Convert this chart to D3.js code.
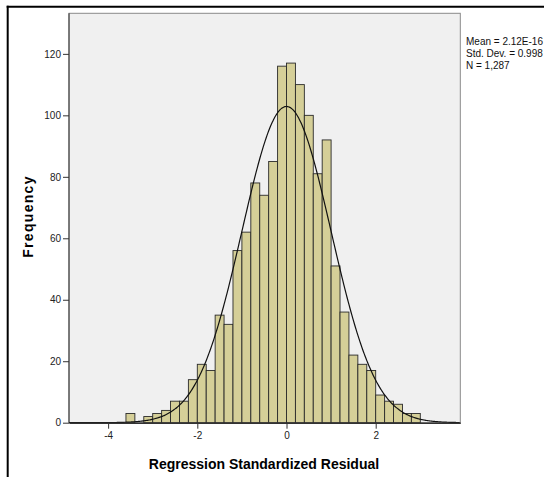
<!DOCTYPE html>
<html>
<head>
<meta charset="utf-8">
<script src="https://cdn.jsdelivr.net/npm/d3@7"></script>
<style>
  body { margin: 0; background: #fff; }
  svg { display: block; font-family: "Liberation Sans", Arial, sans-serif; }
</style>
</head>
<body>
<div id="chart"></div>
<script>
// bin left edges (width 0.2) and counts
const binStarts = [-3.6, -3.4, -3.2, -3.0, -2.8, -2.6, -2.4, -2.2, -2.0, -1.8, -1.6, -1.4, -1.2, -1.0,
  -0.8, -0.6, -0.4, -0.2, 0.0, 0.2, 0.4, 0.6, 0.8, 1.0, 1.2, 1.4, 1.6, 1.8, 2.0, 2.2, 2.4, 2.6, 2.8];
const counts = [3, 0, 2, 3, 4, 7, 7, 14, 19, 17, 35, 32, 56, 62,
  78, 74, 85, 116, 117, 110, 100, 81, 92, 51, 36, 22, 19, 17, 9, 7, 6, 3, 3];
const binWidth = 0.2;
const xTicks = [-4, -2, 0, 2];
const yTicks = [0, 20, 40, 60, 80, 100, 120];
const stats = { mean: 2.12e-16, sd: 0.998, n: 1287 };
const statLines = ['Mean = 2.12E-16', 'Std. Dev. = 0.998', 'N = 1,287'];

const W = 544, H = 477;
const plot = { left: 69, top: 13.3, right: 460.3, bottom: 422.7 };

const svg = d3.select('#chart').append('svg').attr('width', W).attr('height', H);

const x = d3.scaleLinear().domain([-4.877, 3.897]).range([plot.left, plot.right]);
const y = d3.scaleLinear().domain([0, 133.2]).range([plot.bottom, plot.top]);

// outer frame (top and left only)
svg.append('line').attr('x1', 6.7).attr('x2', W).attr('y1', 6.7).attr('y2', 6.7)
  .attr('stroke', '#000').attr('stroke-width', 2);
svg.append('line').attr('x1', 7.7).attr('x2', 7.7).attr('y1', 5.7).attr('y2', H)
  .attr('stroke', '#000').attr('stroke-width', 2);

svg.append('rect')
  .attr('x', plot.left).attr('y', plot.top)
  .attr('width', plot.right - plot.left).attr('height', plot.bottom - plot.top)
  .attr('fill', '#f0f0f0').attr('stroke', '#8a8a8a').attr('stroke-width', 1);

const bins = binStarts.map((b, i) => ({ x0: b, x1: b + binWidth, count: counts[i] }));

svg.append('g').selectAll('rect').data(bins.filter(d => d.count > 0)).enter().append('rect')
  .attr('x', d => x(d.x0))
  .attr('width', d => x(d.x1) - x(d.x0))
  .attr('y', d => y(d.count))
  .attr('height', d => y(0) - y(d.count))
  .attr('fill', '#d5cf98')
  .attr('stroke', '#2a2a2a')
  .attr('stroke-width', 0.9);

// fitted normal curve
const scaleK = stats.n * binWidth / (stats.sd * Math.sqrt(2 * Math.PI));
const curvePts = d3.range(x.domain()[0], x.domain()[1] + 0.001, 0.02)
  .map(v => [v, scaleK * Math.exp(-0.5 * Math.pow((v - stats.mean) / stats.sd, 2))]);
svg.append('path')
  .datum(curvePts)
  .attr('fill', 'none')
  .attr('stroke', '#111')
  .attr('stroke-width', 1.2)
  .attr('d', d3.line().x(d => x(d[0])).y(d => y(d[1])).curve(d3.curveBasis));

// axes
const yAxis = svg.append('g').attr('transform', `translate(${plot.left},0)`)
  .call(d3.axisLeft(y).tickValues(yTicks).tickSize(6).tickSizeOuter(0).tickPadding(2));
yAxis.select('.domain').attr('stroke', '#333').attr('d', `M0,${plot.bottom}V${plot.top}`);

const xAxis = svg.append('g').attr('transform', `translate(0,${plot.bottom})`)
  .call(d3.axisBottom(x).tickValues(xTicks).tickSize(6).tickSizeOuter(0).tickPadding(3)
    .tickFormat(d3.format('d')));
xAxis.select('.domain').attr('stroke', '#333').attr('stroke-width', 1.5);

[yAxis, xAxis].forEach(g => {
  g.selectAll('.tick line').attr('stroke', '#333');
  g.selectAll('.tick text').attr('fill', '#222').style('font-size', '10px')
    .style('font-family', '"Liberation Sans", Arial, sans-serif');
});
xAxis.selectAll('.tick text').text(d => d < 0 ? '-' + Math.abs(d) : d);

svg.append('text')
  .attr('x', 264).attr('y', 469)
  .attr('text-anchor', 'middle')
  .style('font-size', '14px').style('font-weight', 'bold')
  .text('Regression Standardized Residual');

svg.append('text')
  .attr('transform', `translate(33,216.5) rotate(-90)`)
  .attr('text-anchor', 'middle')
  .style('font-size', '14px').style('font-weight', 'bold').style('letter-spacing', '1.3px')
  .text('Frequency');

svg.append('g').selectAll('text').data(statLines).enter().append('text')
  .attr('x', 466).attr('y', (d, i) => 45 + i * 12)
  .style('font-size', '10px')
  .attr('fill', '#111')
  .text(d => d);
</script>
</body>
</html>
